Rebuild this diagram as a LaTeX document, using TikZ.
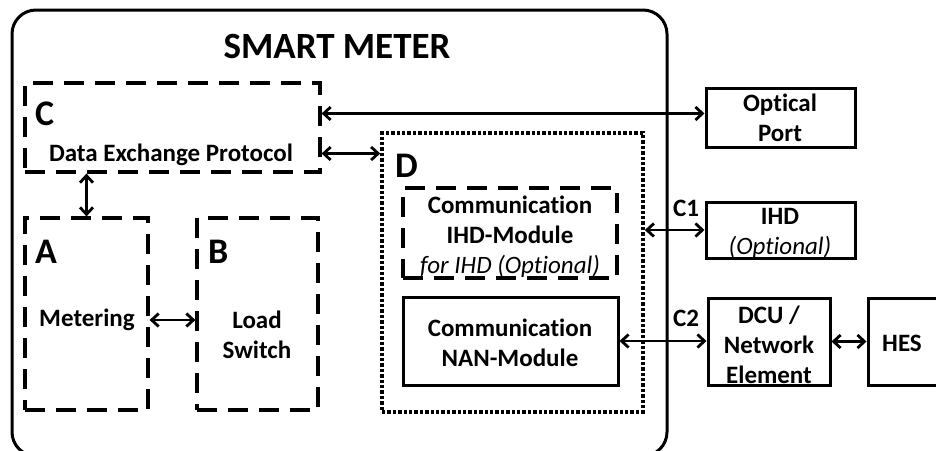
\documentclass[tikz,border=0pt]{standalone}
\usepackage{fontspec}
\setmainfont{Carlito}[Ligatures={NoCommon,TeX}]
\usetikzlibrary{arrows.meta}

\begin{document}
\begin{tikzpicture}[
        x=1pt, y=-1pt,
        inner sep=0pt,
        txt/.style={font=\fontsize{25}{30}\selectfont\bfseries, align=center},
        tag/.style={font=\fontsize{36}{40}\selectfont\bfseries, anchor=base west},
        solidbox/.style={draw, line width=3pt},
        dashbox/.style={draw, line width=3.2pt, dash pattern=on 20pt off 11pt},
        dotbox/.style={draw, line width=3.6pt, dash pattern=on 3.4pt off 2pt},
        dbl/.style={{Straight Barb[length=7pt,width=13pt]}-{Straight Barb[length=7pt,width=13pt]}, line width=2.8pt}
      ]
      \useasboundingbox (0,0) rectangle (936,450);
      \node (meter) [solidbox, rounded corners=24pt, minimum width=655pt, minimum height=446pt] at (339.5,233) {};
      \node (title) [font=\fontsize{37}{40}\selectfont\bfseries, anchor=base] at (337,58) {SMART METER};
      \node (C) [dashbox, minimum width=295pt, minimum height=89pt] at (172.5,127.5) {};
      \node (A) [dashbox, minimum width=123pt, minimum height=192pt] at (86.5,314) {};
      \node (B) [dashbox, minimum width=121pt, minimum height=192pt] at (257.5,314) {};
      \node (D) [dotbox, minimum width=261pt, minimum height=279pt] at (512.5,272.5) {};
      \node (ihdmod) [dashbox, minimum width=214pt, minimum height=90pt] at (510,233) {};
      \node (nan) [solidbox, minimum width=215pt, minimum height=88pt] at (510.5,341) {};
      \node (optical) [solidbox, minimum width=149pt, minimum height=59pt] at (780.5,117.5) {};
      \node (ihd) [solidbox, minimum width=149pt, minimum height=56pt] at (780.5,230) {};
      \node (dcu) [solidbox, minimum width=122pt, minimum height=87pt] at (769,341.5) {};
      \node (hes) [solidbox, minimum width=92pt, minimum height=87pt] at (914,341.5) {};
      \node (tagC) [tag] at (35,125) {C};
      \node (tagA) [tag] at (35,263) {A};
      \node (tagB) [tag] at (208,263) {B};
      \node (tagD) [tag] at (395,177) {D};
      \node (protocol) [txt] at (171,155) {Data Exchange Protocol};
      \node (metering) [txt] at (87,320) {Metering};
      \node (switch) [txt] at (257,335) {Load\\Switch};
      \node (ihdtext) [txt] at (510,237) {Communication\\IHD-Module\\{\mdseries\itshape for IHD (Optional)}};
      \node (nantext) [txt] at (510,343) {Communication\\NAN-Module};
      \node (opttext) [txt] at (780,118) {Optical\\Port};
      \node (ihdname) [txt] at (780,233) {IHD\\{\mdseries\itshape (Optional)}};
      \node (dcutext) [txt] at (769,345) {DCU /\\Network\\Element};
      \node (hestext) [txt] at (902,343) {HES};
      \node (c1) [txt] at (686,208) {C1};
      \node (c2) [txt] at (686,318) {C2};
      \draw[dbl] ([yshift=4pt]optical.west -| C.east) -- ([yshift=4pt]optical.west);
      \draw[dbl] ([yshift=-26pt]C.east) coordinate (cd) -- (cd -| D.west);
      \draw[dbl] (C.south -| A.north) -- (A.north);
      \draw[dbl] ([yshift=-6pt]A.east) -- ([yshift=-6pt]B.west);
      \draw[dbl] (ihd.west -| D.east) -- (ihd.west);
      \draw[dbl] (nan.east) -- (nan.east -| dcu.west);
      \draw[dbl] (dcu.east) -- (hes.west);
    \end{tikzpicture}
\end{document}
